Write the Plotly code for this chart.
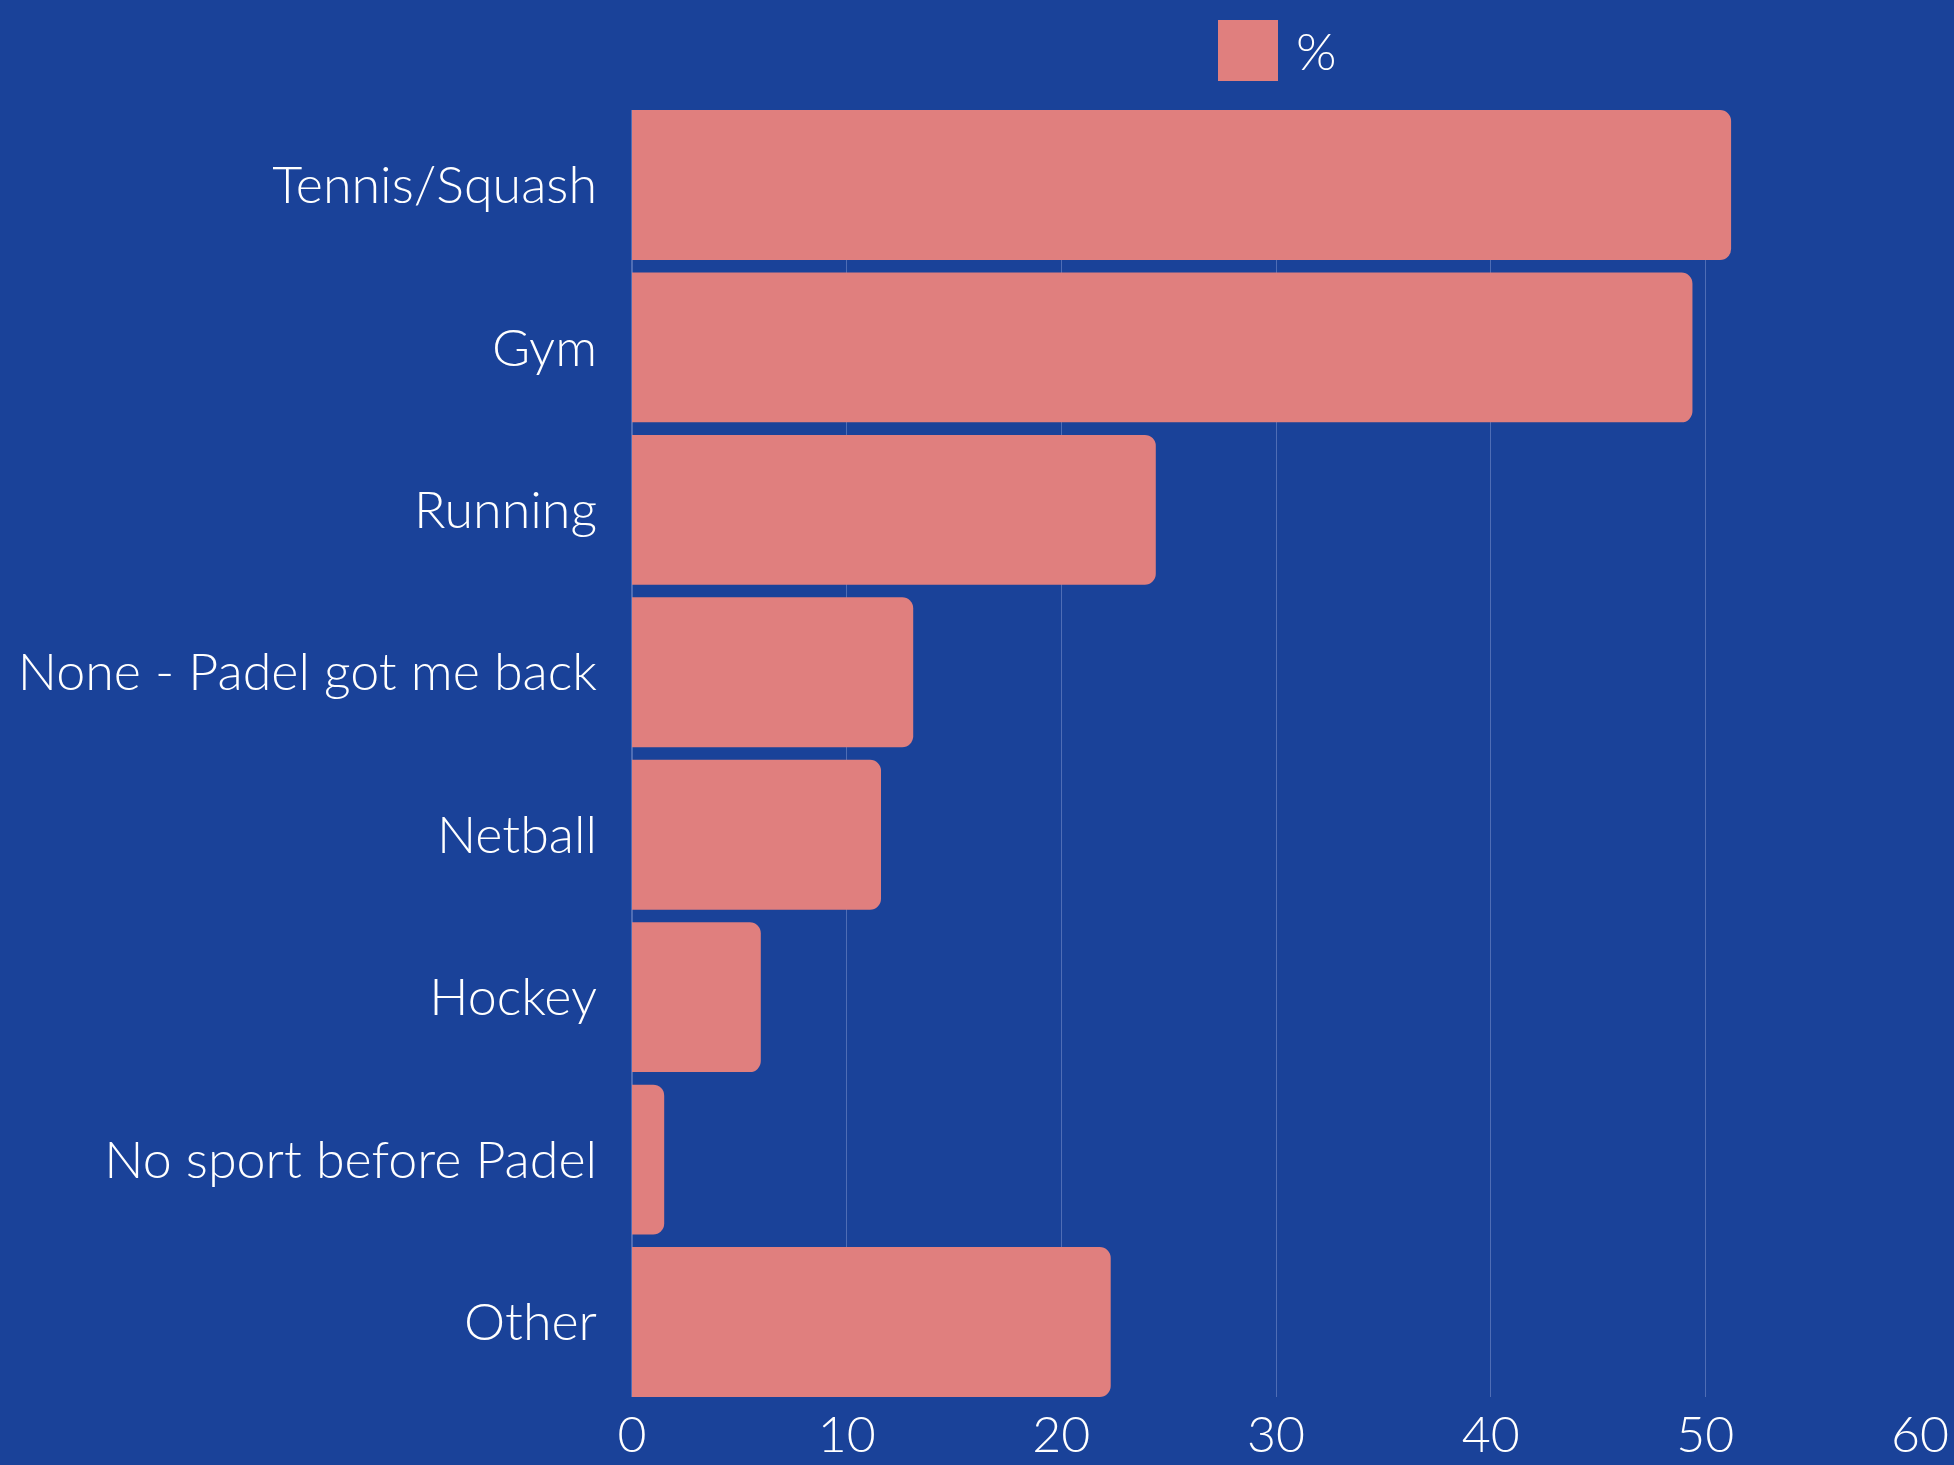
import plotly.graph_objects as go

# Previous sport before taking up padel (share of respondents, %)
categories = [
    "Tennis/Squash",
    "Gym",
    "Running",
    "None - Padel got me back",
    "Netball",
    "Hockey",
    "No sport before Padel",
    "Other",
]
percent = [51.2, 49.4, 24.4, 13.1, 11.6, 6.0, 1.5, 22.3]
series_name = "%"
x_ticks = [0, 10, 20, 30, 40, 50, 60]

BG = "#1A4299"
BAR = "#E07F7E"
GRID = "#4F6DB5"
FONT = "Lato"

W, H = 1954, 1465
ML, MR, MT, MB = 632, 34, 110, 68
PW, PH = W - ML - MR, H - MT - MB

GAP = 0.077  # fraction of each category band left empty between bars
n = len(categories)

fig = go.Figure(
    go.Bar(
        x=percent,
        y=categories,
        orientation="h",
        name=series_name,
        marker=dict(color=BAR, line=dict(width=0)),
        showlegend=False,
    )
)

fig.update_layout(
    width=W,
    height=H,
    paper_bgcolor=BG,
    plot_bgcolor=BG,
    margin=dict(l=ML, r=MR, t=MT, b=MB, autoexpand=False),
    bargap=GAP,
    barcornerradius=11,
    font=dict(family=FONT, size=52, color="white", weight=300),
)

fig.update_xaxes(
    range=[0, 60],
    tickvals=x_ticks,
    showgrid=True,
    gridcolor=GRID,
    gridwidth=1,
    zeroline=True,
    zerolinecolor=GRID,
    showline=False,
    ticks="",
    automargin=False,
    ticklabelstandoff=4,
    tickfont=dict(family=FONT, size=50, color="white", weight=300),
)

# Category axis trimmed so the first and last bars sit flush with the plot edges
fig.update_yaxes(
    categoryorder="array",
    categoryarray=categories,
    range=[n - 0.5 - GAP / 2, -0.5 + GAP / 2],
    showgrid=False,
    showline=False,
    ticks="",
    automargin=False,
    ticklabelstandoff=34,
    tickfont=dict(family=FONT, size=52, color="white", weight=300),
)

# Legend: swatch plus series name, drawn at the top centre
fig.add_shape(
    type="rect",
    xref="paper",
    yref="paper",
    x0=(1218 - ML) / PW,
    x1=(1278 - ML) / PW,
    y0=1 + (MT - 81) / PH,
    y1=1 + (MT - 20) / PH,
    fillcolor=BAR,
    line=dict(width=0),
)
fig.add_annotation(
    text=series_name,
    xref="paper",
    yref="paper",
    x=(1294 - ML) / PW,
    y=1 + (MT - 50) / PH,
    xanchor="left",
    yanchor="middle",
    showarrow=False,
    font=dict(family=FONT, size=52, color="white", weight=300),
)

fig.write_html("out.html")
